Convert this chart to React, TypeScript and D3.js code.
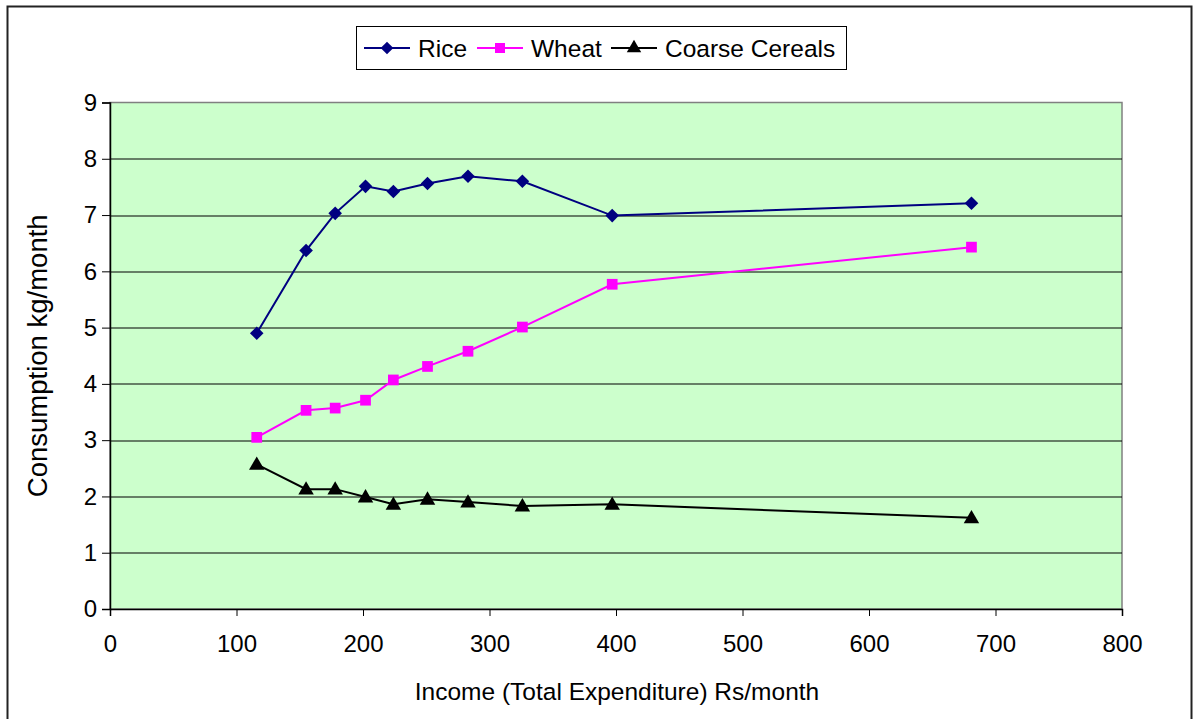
import { useEffect, useRef } from "react";
import * as d3 from "d3";

const income = [116, 155, 178, 202, 224, 251, 283, 326, 397, 681];
const rice = [4.9, 6.37, 7.03, 7.51, 7.42, 7.56, 7.69, 7.6, 6.99, 7.21];
const wheat = [3.05, 3.53, 3.57, 3.71, 4.07, 4.31, 4.58, 5.01, 5.77, 6.43];
const coarse = [2.57, 2.13, 2.13, 1.99, 1.86, 1.95, 1.9, 1.83, 1.86, 1.62];

const xTicks = [0, 100, 200, 300, 400, 500, 600, 700, 800];
const yTicks = [0, 1, 2, 3, 4, 5, 6, 7, 8, 9];

const seriesNames = ["Rice", "Wheat", "Coarse Cereals"];
const seriesColors = ["#000080", "#FF00FF", "#000000"];
const seriesValues = [rice, wheat, coarse];

const W = 1193;
const H = 719;
const MARGIN = { top: 102.5, right: 71, bottom: 110, left: 110 };
const FONT = "'Liberation Sans', Arial, sans-serif";

// diamond = square turned 45deg, like the spreadsheet marker
function marker(i: number, size: number) {
  if (i === 0) return { d: d3.symbol().type(d3.symbolSquare).size(size * 0.8)() as string, rot: 45 };
  if (i === 1) return { d: d3.symbol().type(d3.symbolSquare).size(size)() as string, rot: 0 };
  return { d: d3.symbol().type(d3.symbolTriangle).size(size * 0.9)() as string, rot: 0 };
}

export default function App() {
  const svgRef = useRef<SVGSVGElement>(null);

  useEffect(() => {
    if (!svgRef.current) return;
    const svg = d3.select(svgRef.current);
    svg.selectAll("*").remove();

    const innerW = W - MARGIN.left - MARGIN.right;
    const innerH = H - MARGIN.top - MARGIN.bottom;

    const x = d3.scaleLinear().domain([0, 800]).range([0, innerW]);
    const y = d3.scaleLinear().domain([0, 9]).range([innerH, 0]);

    // outer frame
    svg
      .append("rect")
      .attr("x", 7.5)
      .attr("y", 6.5)
      .attr("width", 1184)
      .attr("height", 730)
      .attr("fill", "#fff")
      .attr("stroke", "#222")
      .attr("stroke-width", 2);

    const g = svg
      .append("g")
      .attr("transform", `translate(${MARGIN.left},${MARGIN.top})`);

    g.append("rect")
      .attr("x", 0)
      .attr("y", 0)
      .attr("width", innerW)
      .attr("height", innerH)
      .attr("fill", "#CCFFCC")
      .attr("stroke", "#808080")
      .attr("stroke-width", 1.5);

    // gridlines
    yTicks
      .filter((t) => t > 0 && t < 9)
      .forEach((t) => {
        g.append("line")
          .attr("x1", 0)
          .attr("x2", innerW)
          .attr("y1", Math.round(y(t)) + 0.5)
          .attr("y2", Math.round(y(t)) + 0.5)
          .attr("stroke", "#000")
          .attr("stroke-width", 1.2);
      });

    // axes
    const xAxis = d3
      .axisBottom(x)
      .tickValues(xTicks)
      .tickSize(7)
      .tickPadding(19)
      .tickFormat((d) => `${d}`);
    const xg = g.append("g").attr("transform", `translate(0,${innerH})`).call(xAxis);
    xg.select(".domain").attr("stroke", "#000").attr("stroke-width", 1.5);
    xg.selectAll("line").attr("stroke", "#000");
    xg.selectAll("text")
      .attr("font-size", "24px")
      .attr("font-family", FONT)
      .attr("fill", "#000");

    const yAxis = d3
      .axisLeft(y)
      .tickValues(yTicks)
      .tickSize(8)
      .tickPadding(5)
      .tickFormat((d) => `${d}`);
    const yg = g.append("g").call(yAxis);
    yg.select(".domain").attr("stroke", "#000").attr("stroke-width", 1.5);
    yg.selectAll("line").attr("stroke", "#000");
    yg.selectAll("text")
      .attr("font-size", "24px")
      .attr("font-family", FONT)
      .attr("fill", "#000");

    // series
    seriesValues.forEach((vals, i) => {
      const pts = vals.map((v, j) => [income[j], v] as [number, number]);
      const line = d3
        .line<[number, number]>()
        .x((d) => x(d[0]))
        .y((d) => y(d[1]));
      g.append("path")
        .datum(pts)
        .attr("d", line)
        .attr("fill", "none")
        .attr("stroke", seriesColors[i])
        .attr("stroke-width", 2);
      const m = marker(i, 115);
      pts.forEach((p) => {
        g.append("path")
          .attr("d", m.d)
          .attr("transform", `translate(${x(p[0])},${y(p[1]) + (i === 2 ? 1 : 0)}) rotate(${m.rot})`)
          .attr("fill", seriesColors[i]);
      });
    });

    // axis titles
    svg
      .append("text")
      .attr("transform", `translate(47,${MARGIN.top + innerH / 2}) rotate(-90)`)
      .attr("text-anchor", "middle")
      .attr("font-size", "27.5px")
      .attr("font-family", FONT)
      .text("Consumption kg/month");

    svg
      .append("text")
      .attr("x", MARGIN.left + innerW / 2 + 1)
      .attr("y", 700)
      .attr("text-anchor", "middle")
      .attr("font-size", "24.5px")
      .attr("font-family", FONT)
      .text("Income (Total Expenditure) Rs/month");

    // legend
    const lg = svg.append("g");
    lg.append("rect")
      .attr("x", 356.5)
      .attr("y", 26.5)
      .attr("width", 490)
      .attr("height", 43)
      .attr("fill", "#fff")
      .attr("stroke", "#000")
      .attr("stroke-width", 1);
    const legendX = [364, 477, 611];
    seriesNames.forEach((name, i) => {
      const lx = legendX[i];
      const ly = 48;
      lg.append("line")
        .attr("x1", lx)
        .attr("x2", lx + 46)
        .attr("y1", ly)
        .attr("y2", ly)
        .attr("stroke", seriesColors[i])
        .attr("stroke-width", 2);
      const m = marker(i, 100);
      lg.append("path")
        .attr("d", m.d)
        .attr("transform", `translate(${lx + 23},${ly}) rotate(${m.rot})`)
        .attr("fill", seriesColors[i]);
      lg.append("text")
        .attr("x", lx + 54)
        .attr("y", ly + 8.5)
        .attr("font-size", "24.5px")
        .attr("font-family", FONT)
        .text(name);
    });
  }, []);

  return (
    <svg
      ref={svgRef}
      width={W}
      height={H}
      style={{ position: "absolute", left: 0, top: 0, display: "block", background: "#fff" }}
    />
  );
}
